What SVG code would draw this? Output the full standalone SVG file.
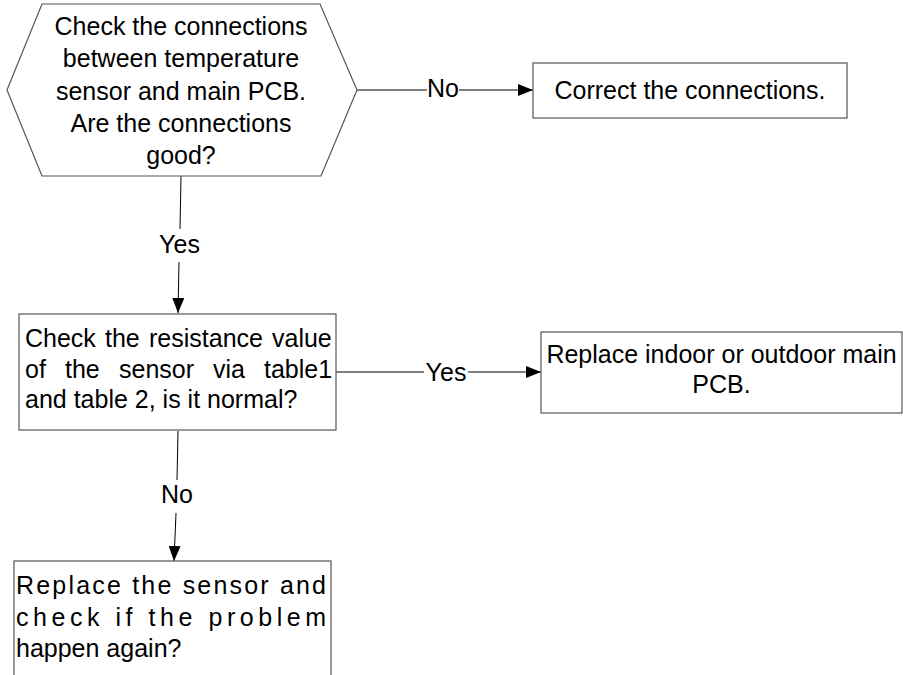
<svg xmlns="http://www.w3.org/2000/svg" width="903" height="675" viewBox="0 0 903 675">
<defs>
<style>
.shape{fill:#fff;stroke:#555;stroke-width:1.2}
.conn{fill:none;stroke:#000;stroke-width:1}
text{font-family:"Liberation Sans",Arial,sans-serif;font-size:25px;fill:#000}
.c{text-anchor:middle}
</style>
<marker id="arrow" markerUnits="userSpaceOnUse" markerWidth="16" markerHeight="12" refX="15" refY="6" orient="auto">
<path d="M0,0 L15,6 L0,12 Z" fill="#000"/>
</marker>
</defs>
<rect width="903" height="675" fill="#fff"/>
<g id="connectors">
<path class="conn" d="M357,90 H427"/>
<path class="conn" d="M459,90 H533" marker-end="url(#arrow)"/>
<text class="c" x="443" y="97">No</text>
<path class="conn" d="M181,176 L180,229"/>
<path class="conn" d="M179,262 L178,313" marker-end="url(#arrow)"/>
<text class="c" x="179.5" y="253">Yes</text>
<path class="conn" d="M336,372 H424"/>
<path class="conn" d="M468,372 H541" marker-end="url(#arrow)"/>
<text class="c" x="446" y="381">Yes</text>
<path class="conn" d="M178,431 L177,480"/>
<path class="conn" d="M176,513 L174,561" marker-end="url(#arrow)"/>
<text class="c" x="177" y="503">No</text>
</g>
<g id="check-connections">
<polygon class="shape" points="42,4 320,4 357,90 321,176 42,176 7,90"/>
<text class="c" x="181" y="35">Check the connections</text>
<text class="c" x="181" y="67">between temperature</text>
<text class="c" x="181" y="100">sensor and main PCB.</text>
<text class="c" x="181" y="132">Are the connections</text>
<text class="c" x="181" y="164">good?</text>
</g>
<g id="correct-connections">
<rect class="shape" x="533" y="63" width="314" height="55"/>
<text class="c" x="690" y="99">Correct the connections.</text>
</g>
<g id="check-resistance">
<rect class="shape" x="19" y="314" width="317" height="116"/>
<text y="347"><tspan x="25">Check</tspan><tspan x="105">the</tspan><tspan x="149">resistance</tspan><tspan x="272">value</tspan></text>
<text y="378"><tspan x="25">of</tspan><tspan x="65">the</tspan><tspan x="119">sensor</tspan><tspan x="213">via</tspan><tspan x="264">table1</tspan></text>
<text x="25" y="408">and table 2, is it normal?</text>
</g>
<g id="replace-pcb">
<rect class="shape" x="541" y="332" width="361" height="81"/>
<text class="c" x="721.5" y="363">Replace indoor or outdoor main</text>
<text class="c" x="721.5" y="393">PCB.</text>
</g>
<g id="replace-sensor">
<rect class="shape" x="14" y="561" width="317" height="130"/>
<text x="16" y="594" textLength="310" lengthAdjust="spacing">Replace the sensor and</text>
<text x="16" y="626" textLength="310" lengthAdjust="spacing">check if the problem</text>
<text x="16" y="657">happen again?</text>
</g>
</svg>
